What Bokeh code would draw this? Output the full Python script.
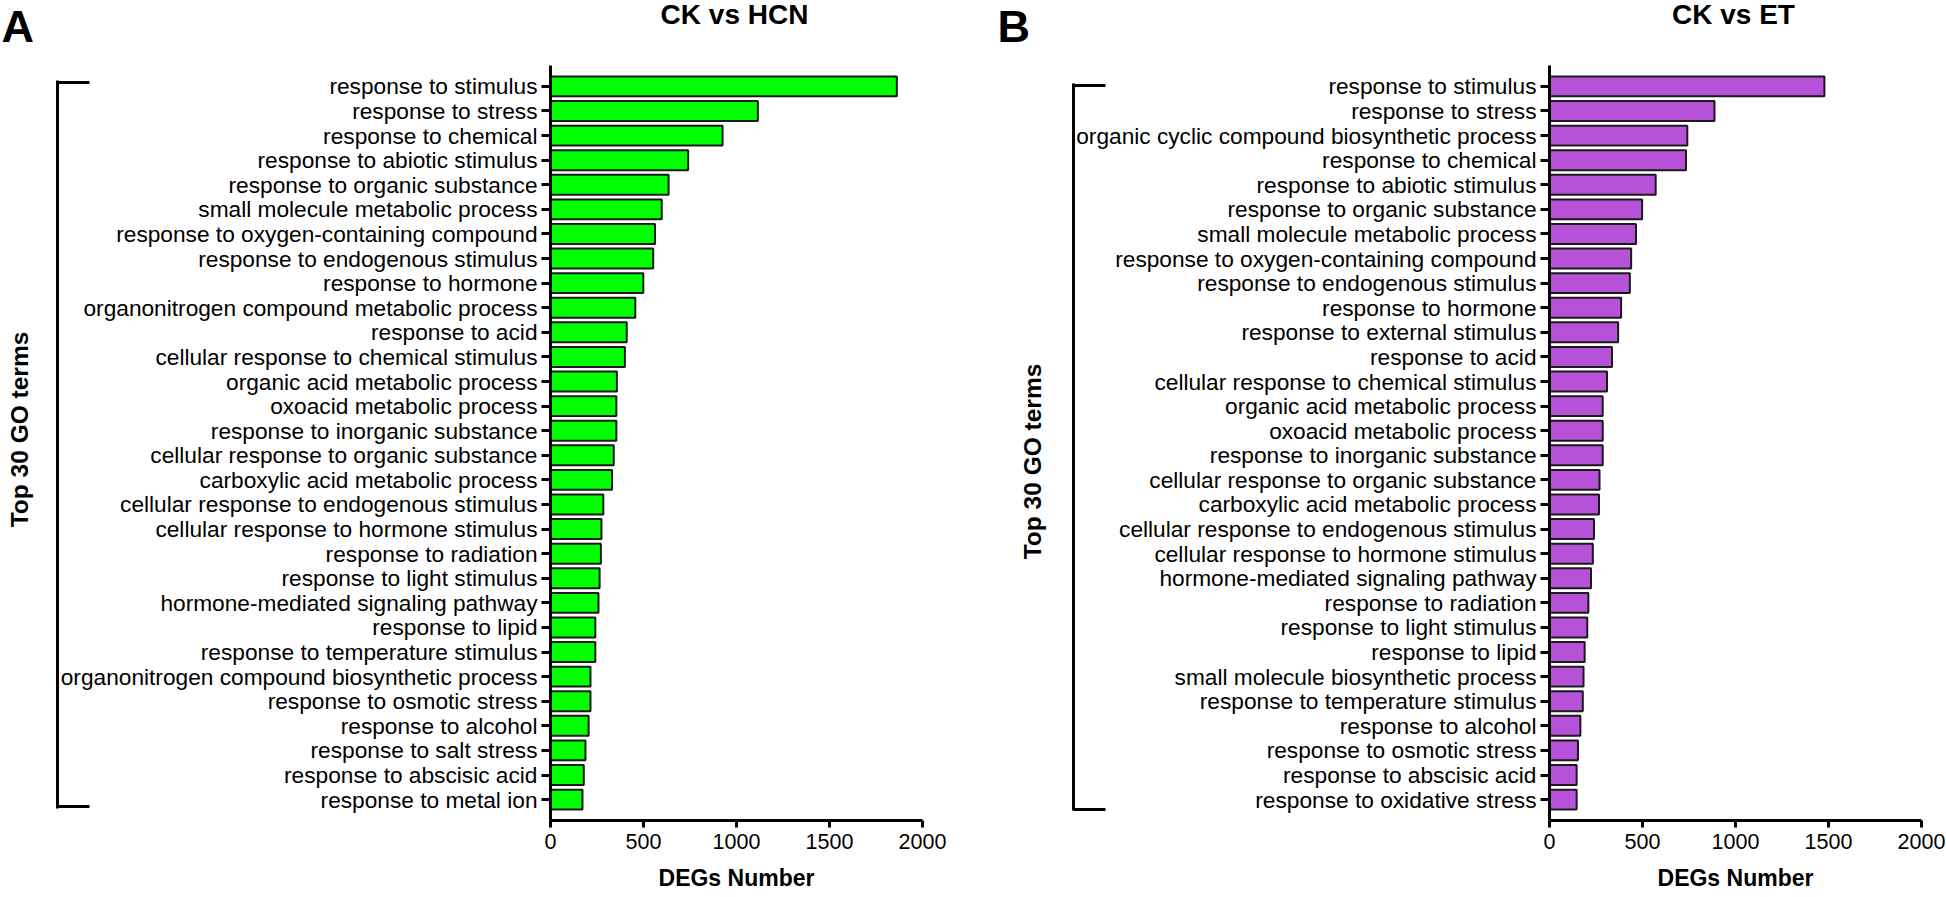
import math
from bokeh.plotting import figure
from bokeh.models import (FactorRange, Range1d, FixedTicker, Label, ColumnDataSource,
                          LinearAxis)
from bokeh.layouts import row
from bokeh.embed import file_html
from bokeh.resources import INLINE

# ---------------- data ----------------
hcn_terms = [
    "response to stimulus", "response to stress", "response to chemical",
    "response to abiotic stimulus", "response to organic substance",
    "small molecule metabolic process", "response to oxygen-containing compound",
    "response to endogenous stimulus", "response to hormone",
    "organonitrogen compound metabolic process", "response to acid",
    "cellular response to chemical stimulus", "organic acid metabolic process",
    "oxoacid metabolic process", "response to inorganic substance",
    "cellular response to organic substance", "carboxylic acid metabolic process",
    "cellular response to endogenous stimulus", "cellular response to hormone stimulus",
    "response to radiation", "response to light stimulus",
    "hormone-mediated signaling pathway", "response to lipid",
    "response to temperature stimulus", "organonitrogen compound biosynthetic process",
    "response to osmotic stress", "response to alcohol", "response to salt stress",
    "response to abscisic acid", "response to metal ion",
]
hcn_counts = [1862, 1115, 925, 740, 635, 598, 562, 552, 499, 456,
              410, 400, 357, 354, 354, 340, 331, 284, 274, 271,
              264, 258, 241, 241, 215, 215, 205, 188, 179, 172]

et_terms = [
    "response to stimulus", "response to stress",
    "organic cyclic compound biosynthetic process", "response to chemical",
    "response to abiotic stimulus", "response to organic substance",
    "small molecule metabolic process", "response to oxygen-containing compound",
    "response to endogenous stimulus", "response to hormone",
    "response to external stimulus", "response to acid",
    "cellular response to chemical stimulus", "organic acid metabolic process",
    "oxoacid metabolic process", "response to inorganic substance",
    "cellular response to organic substance", "carboxylic acid metabolic process",
    "cellular response to endogenous stimulus", "cellular response to hormone stimulus",
    "hormone-mediated signaling pathway", "response to radiation",
    "response to light stimulus", "response to lipid",
    "small molecule biosynthetic process", "response to temperature stimulus",
    "response to alcohol", "response to osmotic stress",
    "response to abscisic acid", "response to oxidative stress",
]
et_counts = [1478, 887, 741, 734, 571, 498, 465, 439, 432, 385,
             369, 336, 309, 286, 286, 286, 269, 266, 239, 233,
             223, 209, 203, 189, 183, 179, 166, 153, 146, 146]

x_ticks = [0, 500, 1000, 1500, 2000]
panel_letters = ["A", "B"]
panel_titles = ["CK vs HCN", "CK vs ET"]
x_title = "DEGs Number"
y_title = "Top 30 GO terms"

FONT = "Liberation Sans"
H = 897
FRAME_TOP, FRAME_BOTTOM = 65, 820
PAD = 0.35  # absolute padding per side (category units) of the factor range


def canvas_label(p, place, x, y, text, size, align="left", angle=0.0):
    p.add_layout(Label(x=x, y=y, x_units="canvas", y_units="canvas", text=text,
                       text_font=FONT, text_font_size=size, text_font_style="bold",
                       text_color="black", text_align=align, text_baseline="alphabetic",
                       angle=angle), place)


def px_to_synthetic(py, n):
    """screen y (px) -> synthetic coordinate of the factor range"""
    lo, hi = -PAD, n + PAD
    return hi - (py - FRAME_TOP) * (hi - lo) / (FRAME_BOTTOM - FRAME_TOP)


def make_panel(terms, counts, color, width, b_left, b_right, letter, letter_place,
               letter_x, title_x, ylab_x, ylab_y, br_top, br_bottom, br_arm, br_gap, title):
    n = len(terms)
    factors = list(reversed(terms))
    src = ColumnDataSource(dict(term=terms, count=counts))
    p = figure(width=width, height=H, output_backend="svg", toolbar_location=None,
               y_range=FactorRange(factors=factors, range_padding=PAD,
                                   range_padding_units="absolute"),
               x_range=Range1d(0, 2000),
               min_border_left=b_left, min_border_right=b_right,
               min_border_top=FRAME_TOP, min_border_bottom=H - FRAME_BOTTOM)
    p.title.visible = False
    p.hbar(y="term", right="count", left=0, height=0.81, source=src,
           fill_color=color, line_color="#1a1a1a", line_width=2)
    p.xgrid.visible = False
    p.ygrid.visible = False
    p.outline_line_color = None
    p.background_fill_color = "white"
    p.border_fill_color = "white"

    xa = p.xaxis[0]
    xa.ticker = FixedTicker(ticks=x_ticks)
    xa.axis_line_width = 3
    xa.axis_line_color = "black"
    xa.major_tick_line_width = 3
    xa.major_tick_line_color = "black"
    xa.major_tick_out = 7
    xa.major_tick_in = 0
    xa.minor_tick_line_color = None
    xa.major_label_text_font = FONT
    xa.major_label_text_font_size = "21.5px"
    xa.major_label_text_color = "black"
    xa.major_label_standoff = 6
    xa.axis_label = x_title
    xa.axis_label_text_font = FONT
    xa.axis_label_text_font_size = "23px"
    xa.axis_label_text_font_style = "bold"
    xa.axis_label_text_color = "black"
    xa.axis_label_standoff = 13

    ya = p.yaxis[0]
    ya.axis_line_width = 3
    ya.axis_line_color = "black"
    ya.major_tick_line_width = 3
    ya.major_tick_line_color = "black"
    ya.major_tick_out = 9
    ya.major_tick_in = 0
    ya.minor_tick_line_color = None
    ya.major_label_text_font = FONT
    ya.major_label_text_font_size = "22.7px"
    ya.major_label_text_color = "black"
    ya.major_label_standoff = 4

    # invisible spacer axis between the term labels and the bracket
    spacer = LinearAxis(ticker=FixedTicker(ticks=[]), axis_line_color=None,
                        major_tick_line_color=None, minor_tick_line_color=None,
                        major_tick_out=br_gap, major_tick_in=0, minor_tick_out=0,
                        major_label_standoff=0, major_label_text_color=None,
                        major_label_text_font_size="1px")
    p.add_layout(spacer, "left")

    # bracket drawn as an extra axis: line limited by bounds, inward ticks as arms
    b_lo = px_to_synthetic(br_bottom, n)
    b_hi = px_to_synthetic(br_top, n)
    br = LinearAxis(bounds=(b_lo, b_hi),
                    ticker=FixedTicker(ticks=[px_to_synthetic(br_top + 1.5, n),
                                              px_to_synthetic(br_bottom - 1.5, n)]),
                    axis_line_width=3, axis_line_color="black",
                    major_tick_line_width=3, major_tick_line_color="black",
                    major_tick_in=br_arm, major_tick_out=0,
                    minor_tick_line_color=None,
                    major_label_text_font_size="1px", major_label_text_color=None,
                    major_label_standoff=0)
    p.add_layout(br, "left")

    canvas_label(p, letter_place, letter_x, 26.2, letter, "45px")
    canvas_label(p, "above", title_x, 13.5, title, "28px", align="center")
    canvas_label(p, "left", ylab_x, ylab_y, y_title, "24.5px", align="center", angle=math.pi / 2)
    return p


pA = make_panel(hcn_terms, hcn_counts, "#00FF00", 983, 550, 61,
                panel_letters[0], "right", 1, 734, 19, 429,
                80, 807.5, 32, 2, panel_titles[0])
pB = make_panel(et_terms, et_counts, "#B652D8", 963, 566, 25,
                panel_letters[1], "left", 14, 750, 49, 461,
                83, 810, 32, 8, panel_titles[1])

layout = row(pA, pB)
open("out.html", "w").write(file_html(layout, INLINE))
